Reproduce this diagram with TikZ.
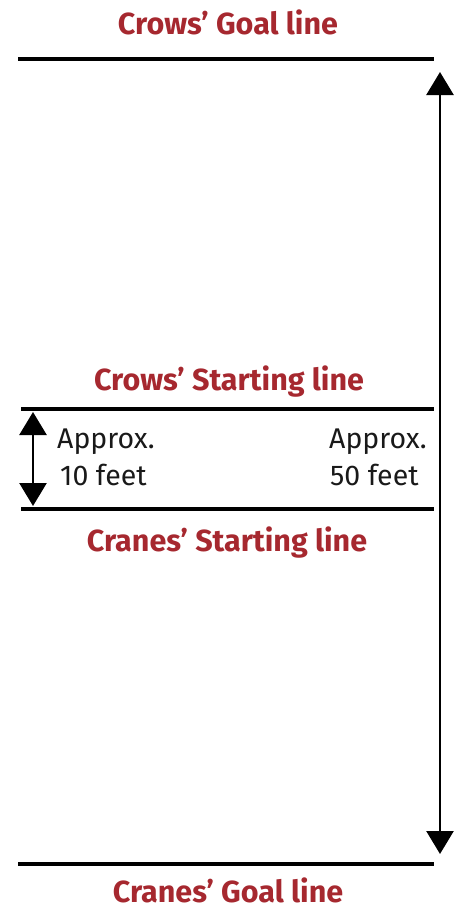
\documentclass[tikz,border=0pt]{standalone}
\usepackage{fontspec}
\setmainfont{Fira Sans}
\usetikzlibrary{arrows.meta}
\definecolor{labelred}{HTML}{A6282F}
\begin{document}
\begin{tikzpicture}[x=1pt,y=-1pt,
  fieldline/.style={line width=4.5pt},
  dimarrow/.style={line width=2.6pt,{Triangle[width=27pt,length=23pt]}-{Triangle[width=27pt,length=23pt]}},
  redlabel/.style={text=labelred,font=\bfseries\fontsize{30.5}{34}\selectfont,inner sep=0pt,anchor=base},
  blacklabel/.style={text=black!90,font=\fontsize{28.5}{33}\selectfont,inner sep=0pt,anchor=base west}]
\useasboundingbox (0,0) rectangle (459,907);
% lines
\coordinate (g1l) at (18,59);  \coordinate (g1r) at (434,59);
\coordinate (s1l) at (21,409); \coordinate (s1r) at (434,409);
\coordinate (s2l) at (21,509); \coordinate (s2r) at (434,509);
\coordinate (g2l) at (18,864); \coordinate (g2r) at (434,864);
\draw[fieldline] (g1l) -- (g1r);
\draw[fieldline] (s1l) -- (s1r);
\draw[fieldline] (s2l) -- (s2r);
\draw[fieldline] (g2l) -- (g2r);
% arrows
\coordinate (la) at (440,72); \coordinate (lb) at (440,854);
\draw[dimarrow] (la) -- (lb);
\coordinate (sa) at (33,412); \coordinate (sb) at (33,506);
\draw[dimarrow] (sa) -- (sb);
% labels
\node[redlabel] (t1) at (228,35) {Crows’ Goal line};
\node[redlabel] (t2) at (229,390) {Crows’ Starting line};
\node[redlabel] (t3) at (227,551) {Cranes’ Starting line};
\node[redlabel] (t4) at (228,902) {Cranes’ Goal line};
\node[blacklabel] (a1) at (57,448) {Approx.};
\node[blacklabel] (a2) at (60,485) {10 feet};
\node[blacklabel] (a3) at (329,448) {Approx.};
\node[blacklabel] (a4) at (330,485) {50 feet};
\end{tikzpicture}
\end{document}
